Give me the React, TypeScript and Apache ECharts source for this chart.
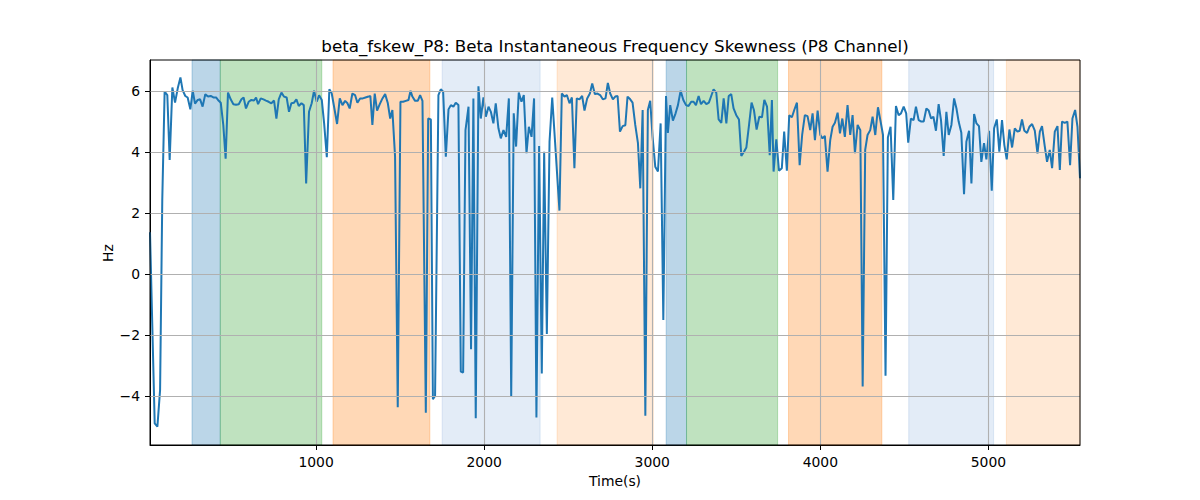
import React, { useEffect, useRef } from "react";
import * as echarts from "echarts";

const times: number[] = [
  12, 40, 56, 72, 85, 99, 115, 129, 145, 161, 177, 193, 206, 222, 236, 252, 266, 280, 296, 310,
  325, 341, 357, 373, 389, 405, 421, 433, 448, 462, 476, 492, 508, 524, 540, 556, 569, 583, 599, 615,
  631, 643, 655, 671, 687, 702, 718, 734, 750, 764, 778, 794, 809, 825, 839, 853, 869, 883, 897, 913,
  927, 941, 958, 974, 988, 1004, 1018, 1034, 1048, 1064, 1079, 1093, 1109, 1125, 1141, 1157, 1173, 1187, 1200, 1216,
  1232, 1246, 1262, 1278, 1294, 1312, 1323, 1335, 1349, 1363, 1379, 1395, 1411, 1427, 1441, 1454, 1470, 1486, 1502, 1518,
  1534, 1550, 1562, 1573, 1589, 1605, 1619, 1633, 1653, 1667, 1683, 1695, 1708, 1728, 1742, 1756, 1772, 1788, 1802, 1817,
  1831, 1847, 1861, 1875, 1889, 1907, 1922, 1936, 1950, 1966, 1980, 1996, 2010, 2026, 2040, 2055, 2069, 2085, 2099, 2115,
  2131, 2147, 2161, 2176, 2190, 2206, 2222, 2236, 2252, 2266, 2282, 2297, 2311, 2327, 2343, 2357, 2373, 2389, 2405, 2448,
  2462, 2478, 2492, 2508, 2522, 2537, 2551, 2567, 2583, 2597, 2613, 2629, 2643, 2659, 2674, 2690, 2706, 2722, 2736, 2750,
  2766, 2780, 2794, 2808, 2824, 2840, 2853, 2869, 2883, 2899, 2915, 2929, 2943, 2959, 2974, 2988, 3002, 3018, 3034, 3050,
  3066, 3082, 3093, 3107, 3123, 3139, 3153, 3169, 3185, 3201, 3216, 3232, 3246, 3260, 3276, 3290, 3306, 3322, 3337, 3351,
  3365, 3381, 3395, 3411, 3425, 3441, 3455, 3470, 3484, 3500, 3516, 3530, 3546, 3560, 3576, 3591, 3605, 3621, 3637, 3653,
  3667, 3683, 3699, 3712, 3722, 3738, 3754, 3771, 3785, 3801, 3815, 3831, 3845, 3861, 3877, 3892, 3908, 3924, 3940, 3954,
  3968, 3984, 4000, 4013, 4027, 4043, 4059, 4073, 4087, 4103, 4117, 4131, 4146, 4162, 4178, 4192, 4206, 4222, 4238, 4252,
  4267, 4281, 4297, 4311, 4327, 4343, 4357, 4373, 4388, 4402, 4418, 4434, 4450, 4466, 4480, 4496, 4511, 4523, 4539, 4555,
  4569, 4585, 4601, 4615, 4631, 4645, 4659, 4673, 4688, 4704, 4718, 4734, 4750, 4764, 4780, 4796, 4810, 4823, 4839, 4855,
  4869, 4885, 4899, 4915, 4929, 4944, 4958, 4974, 4988, 5004, 5020, 5034, 5050, 5065, 5081, 5095, 5109, 5125, 5141, 5157,
  5173, 5186, 5200, 5214, 5230, 5244, 5260, 5276, 5292, 5306, 5319, 5335, 5349, 5365, 5379, 5395, 5411, 5425, 5438, 5454,
  5470, 5486, 5500, 5516, 5530, 5545,
];

const skewness: number[] = [
  1.38, -4.89, -5.0, -3.79, 2.44, 5.99, 5.88, 3.75, 6.13, 5.63, 6.1, 6.46, 6.04, 5.85, 5.8, 5.41, 6.02, 5.6, 5.72, 5.74,
  5.5, 5.91, 5.83, 5.85, 5.8, 5.8, 5.69, 5.63, 4.9, 3.79, 5.96, 5.74, 5.58, 5.56, 5.58, 5.74, 5.8, 5.44, 5.66, 5.72,
  5.7, 5.8, 5.58, 5.77, 5.74, 5.7, 5.66, 5.61, 5.7, 5.11, 5.74, 5.96, 5.83, 5.8, 5.33, 5.61, 5.63, 5.74, 5.52, 5.61,
  5.55, 2.98, 5.33, 5.61, 6.02, 5.66, 5.87, 5.72, 4.95, 3.84, 6.07, 5.94, 5.44, 4.93, 5.77, 5.55, 5.69, 5.61, 5.44, 5.93,
  5.88, 5.63, 5.77, 5.77, 5.8, 5.83, 5.85, 4.9, 5.93, 5.37, 5.58, 5.77, 5.91, 5.61, 5.11, 5.39, 3.86, -4.36, 5.66, 5.66,
  5.69, 5.72, 6.02, 5.83, 5.69, 5.69, 5.88, 5.69, -4.54, 5.11, 5.08, -4.1, -3.99, 5.88, 6.07, 5.99, 3.86, 5.41, 5.55, 5.5,
  5.63, 5.55, -3.19, -3.22, 4.73, 5.5, -2.46, 5.77, -4.72, 6.17, 5.11, 5.8, 5.17, 5.5, 5.33, 4.95, 5.61, 4.79, 4.46, 4.73,
  4.51, 5.77, -3.99, 5.28, 4.19, 5.96, 5.66, 5.88, 3.97, 4.84, 4.51, 5.77, -4.7, 4.21, -3.25, 4.02, -1.96, 4.35, 5.8, 2.09,
  5.93, 5.83, 5.88, 5.61, 5.8, 3.48, 5.77, 5.74, 5.85, 5.37, 5.77, 5.93, 6.26, 5.91, 5.93, 5.88, 5.74, 5.77, 6.28, 5.93,
  5.74, 5.83, 5.85, 4.68, 4.86, 4.89, 5.83, 5.74, 5.63, 4.9, 4.3, 2.82, 5.39, -4.64, 5.39, 5.69, 4.51, 3.53, 3.37, 4.95,
  -1.5, 5.85, 4.64, 5.55, 5.04, 5.28, 5.55, 6.02, 5.72, 5.55, 5.52, 5.66, 5.66, 5.55, 5.85, 5.58, 5.69, 5.58, 5.63, 5.85,
  6.07, 5.96, 5.08, 4.97, 5.77, 4.95, 5.85, 5.91, 5.44, 5.22, 5.08, 3.88, 4.02, 4.16, 4.9, 5.63, 5.39, 4.75, 5.17, 5.15,
  5.72, 5.5, 3.91, 5.72, 3.37, 4.43, 3.4, 3.48, 4.68, 3.4, 5.22, 5.15, 5.39, 5.63, 3.58, 4.57, 5.22, 5.19, 4.73, 5.28,
  4.4, 5.37, 4.57, 4.46, 4.54, 3.37, 4.4, 4.84, 4.97, 5.3, 4.62, 5.11, 4.51, 5.55, 4.57, 5.22, 3.97, 4.9, 4.73, -3.68,
  4.08, 4.57, 4.73, 5.17, 4.57, 5.48, 5.06, 4.57, -3.33, 4.49, 4.84, 2.44, 5.52, 5.22, 5.28, 5.5, 5.28, 4.32, 5.11, 5.06,
  5.5, 5.06, 5.01, 5.01, 5.44, 5.37, 5.11, 5.17, 4.71, 5.58, 5.06, 3.88, 5.33, 4.57, 4.9, 5.77, 5.44, 5.01, 4.64, 2.63,
  4.35, 4.71, 2.98, 5.26, 4.95, 4.86, 3.69, 4.3, 3.77, 4.71, 2.74, 4.79, 5.08, 4.02, 5.06, 4.24, 3.77, 4.75, 4.16, 4.79,
  4.68, 4.71, 5.08, 4.71, 4.64, 4.84, 4.93, 4.71, 3.97, 4.68, 4.86, 4.21, 3.69, 4.08, 3.48, 4.68, 4.86, 3.42, 5.01, 4.97,
  5.01, 3.58, 5.11, 5.39, 4.84, 3.15,
];

// shaded intervals: [start, end, kind]
const spanStarts: number[] = [262, 430, 1101, 1750, 2434, 3083, 3204, 3811, 4526, 5107];
const spanEnds: number[] = [430, 1034, 1677, 2333, 3006, 3204, 3746, 4366, 5031, 5545];
const spanKinds: string[] = ["blue", "green", "orange", "lightblue", "lightorange", "blue", "green", "orange", "lightblue", "lightorange"];

const xTicks: number[] = [1000, 2000, 3000, 4000, 5000];
const yTicks: number[] = [-4, -2, 0, 2, 4, 6];

const X_MIN = 12;
const X_MAX = 5545;
const Y_MIN = -5.6;
const Y_MAX = 7.03;

const kindColor: Record<string, string> = {
  blue: "rgba(31,119,180,0.3)",
  green: "rgba(44,160,44,0.3)",
  orange: "rgba(255,127,14,0.3)",
  lightblue: "rgba(56,120,200,0.14)",
  lightorange: "rgba(255,127,14,0.17)",
};

const FONT = "DejaVu Sans";

export default function App() {
  const ref = useRef<HTMLDivElement>(null);
  useEffect(() => {
    if (!ref.current) return;
    const chart = echarts.init(ref.current, null, { renderer: "svg" });
    const data = times.map((t, i) => [t, skewness[i]]);
    const areas = spanStarts.map((s, i) => [
      {
        xAxis: s,
        itemStyle: { color: kindColor[spanKinds[i]], borderColor: kindColor[spanKinds[i]], borderWidth: 1 },
      },
      { xAxis: spanEnds[i] },
    ]);
    const gridLines = [
      ...xTicks.map((v) => ({ xAxis: v })),
      ...yTicks.map((v) => ({ yAxis: v })),
    ];
    const minus = (v: number) => String(v).replace("-", "\u2212");
    chart.setOption({
      animation: false,
      textStyle: { fontFamily: FONT },
      grid: { left: 150, right: 120, top: 60, bottom: 55, containLabel: false },
      xAxis: {
        type: "value",
        min: X_MIN,
        max: X_MAX,
        axisLine: { show: true, onZero: false, lineStyle: { color: "#000", width: 1 } },
        axisTick: { show: true, customValues: xTicks, length: 5, lineStyle: { color: "#000", width: 1 } },
        axisLabel: { customValues: xTicks, color: "#000", fontSize: 13.9, fontFamily: FONT, margin: 10, formatter: (v: number) => minus(v) },
        splitLine: { show: false },
      },
      yAxis: {
        type: "value",
        min: Y_MIN,
        max: Y_MAX,
        axisLine: { show: true, onZero: false, lineStyle: { color: "#000", width: 1 } },
        axisTick: { show: true, customValues: yTicks, length: 5, lineStyle: { color: "#000", width: 1 } },
        axisLabel: { customValues: yTicks, color: "#000", fontSize: 13.9, fontFamily: FONT, margin: 10, formatter: (v: number) => minus(v) },
        splitLine: { show: false },
      },
      series: [
        {
          type: "line",
          name: "spans",
          data: data,
          z: 1,
          silent: true,
          showSymbol: false,
          lineStyle: { opacity: 0, width: 0 },
          markArea: { silent: true, data: areas },
        },
        {
          type: "line",
          name: "grid",
          data: data,
          z: 2,
          silent: true,
          showSymbol: false,
          lineStyle: { opacity: 0, width: 0 },
          markLine: {
            silent: true,
            symbol: ["none", "none"],
            label: { show: false },
            lineStyle: { color: "#b0b0b0", width: 1.1, type: "solid" },
            data: gridLines,
          },
        },
        {
          type: "line",
          name: "beta_fskew_P8",
          data: data,
          z: 3,
          showSymbol: false,
          lineStyle: { color: "#1f77b4", width: 2 },
          itemStyle: { color: "#1f77b4" },
        },
      ],
      graphic: [
        {
          type: "rect",
          z: 100,
          shape: { x: 150, y: 60, width: 930, height: 385 },
          style: { fill: "none", stroke: "#000", lineWidth: 1 },
          silent: true,
        },
        {
          type: "text",
          x: 615,
          y: 46,
          style: {
            text: "beta_fskew_P8: Beta Instantaneous Frequency Skewness (P8 Channel)",
            fontSize: 16.7,
            fontFamily: FONT,
            fill: "#000",
            textAlign: "center",
            textVerticalAlign: "middle",
          },
        },
        {
          type: "text",
          x: 615,
          y: 481,
          style: { text: "Time(s)", fontSize: 13.9, fontFamily: FONT, fill: "#000", textAlign: "center", textVerticalAlign: "middle" },
        },
        {
          type: "text",
          x: 108,
          y: 253,
          rotation: Math.PI / 2,
          style: { text: "Hz", fontSize: 13.9, fontFamily: FONT, fill: "#000", textAlign: "center", textVerticalAlign: "middle" },
        },
      ],
    });
    return () => chart.dispose();
  }, []);
  return (
    <div
      ref={ref}
      style={{ position: "fixed", left: 0, top: 0, width: 1200, height: 500, background: "#fff" }}
    />
  );
}
